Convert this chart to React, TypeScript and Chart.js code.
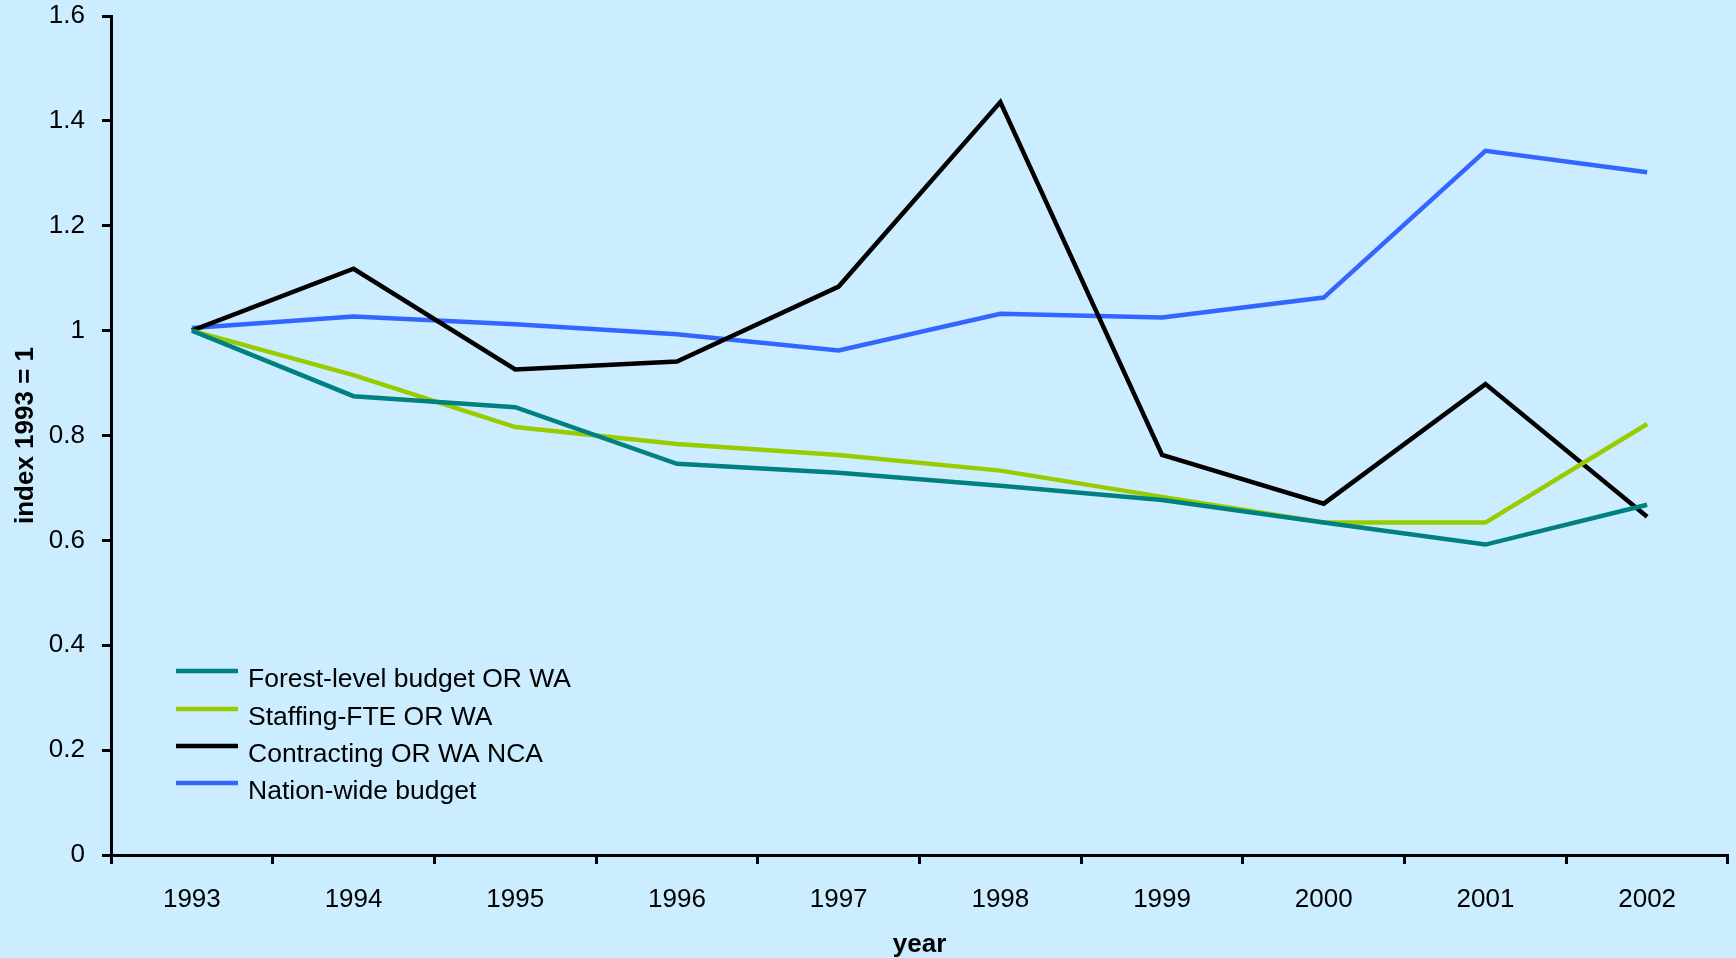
import React, { useEffect, useRef } from "react";
import { Chart, registerables } from "chart.js";

Chart.register(...registerables);

const years = ["1993", "1994", "1995", "1996", "1997", "1998", "1999", "2000", "2001", "2002"];
const forestBudget = [1.0, 0.875, 0.854, 0.746, 0.729, 0.704, 0.677, 0.634, 0.592, 0.668];
const staffingFTE = [1.0, 0.915, 0.816, 0.784, 0.763, 0.733, 0.683, 0.634, 0.634, 0.822];
const contracting = [1.0, 1.118, 0.926, 0.941, 1.084, 1.436, 0.763, 0.67, 0.898, 0.645];
const nationBudget = [1.005, 1.027, 1.012, 0.993, 0.962, 1.032, 1.025, 1.063, 1.343, 1.302];
const seriesNames = ["Forest-level budget OR WA", "Staffing-FTE OR WA", "Contracting OR WA NCA", "Nation-wide budget"];
const seriesColors = ["#008080", "#99CC00", "#000000", "#3366FF"];

const FONT = "'Liberation Sans', Arial, sans-serif";

const legendPlugin = {
  id: "insideLegend",
  afterDraw(chart: any) {
    const ctx = chart.ctx;
    ctx.save();
    const rows = [671, 709, 746, 783];
    chart.data.datasets.forEach((ds: any, i: number) => {
      const y = rows[i];
      ctx.strokeStyle = ds.borderColor;
      ctx.lineWidth = 4.5;
      ctx.beginPath();
      ctx.moveTo(176, y);
      ctx.lineTo(238, y);
      ctx.stroke();
      ctx.fillStyle = "#000";
      ctx.font = `26.5px ${FONT}`;
      ctx.textBaseline = "alphabetic";
      ctx.textAlign = "left";
      ctx.fillText(ds.label, 248, y + 16);
    });
    ctx.restore();
  },
};

export default function App() {
  const ref = useRef<HTMLCanvasElement | null>(null);
  useEffect(() => {
    document.body.style.margin = "0";
    const series = [forestBudget, staffingFTE, contracting, nationBudget];
    const chart = new Chart(ref.current as HTMLCanvasElement, {
      type: "line",
      data: {
        labels: years,
        datasets: series.map((d, i) => ({
          label: seriesNames[i],
          data: d,
          borderColor: seriesColors[i],
          backgroundColor: seriesColors[i],
          borderWidth: 4.5,
          borderJoinStyle: "miter" as const,
          pointRadius: 0,
          tension: 0,
        })),
      },
      options: {
        animation: false,
        responsive: false,
        maintainAspectRatio: false,
        layout: { padding: { left: 0, right: 8, top: 16, bottom: 0 } },
        plugins: { legend: { display: false }, tooltip: { enabled: false } },
        scales: {
          x: {
            offset: true,
            grid: { offset: true, drawOnChartArea: false, drawTicks: true, tickLength: 9, tickWidth: 3, color: "#000" },
            border: { color: "#000", width: 3 },
            ticks: { color: "#000", font: { family: FONT, size: 26 }, padding: 20, maxRotation: 0 },
            title: { display: true, text: "year", color: "#000", font: { family: FONT, size: 26, weight: "bold" }, padding: { top: 0, bottom: -2 } },
            afterFit: (s: any) => { s.height = 103; s.paddingLeft = 0; s.paddingRight = 0; },
          },
          y: {
            min: 0,
            max: 1.6,
            ticks: { stepSize: 0.2, color: "#000", font: { family: FONT, size: 26 }, padding: 17,
              callback: (v: any) => String(Math.round(Number(v) * 10) / 10) },
            grid: { drawOnChartArea: false, drawTicks: true, tickLength: 9, tickWidth: 3, color: "#000" },
            border: { color: "#000", width: 3 },
            title: { display: true, text: "index 1993 = 1", color: "#000", font: { family: FONT, size: 26, weight: "bold" }, padding: { top: 10, bottom: 0 } },
            afterFit: (s: any) => { s.width = 111; s.paddingTop = 0; s.paddingBottom = 0; },
          },
        },
      },
      plugins: [legendPlugin, {
        id: "bg",
        beforeDraw(c: any) {
          const ctx = c.ctx;
          ctx.save();
          ctx.fillStyle = "#CCECFF";
          ctx.fillRect(0, 0, c.width, c.height);
          ctx.restore();
        },
      }],
    });
    return () => chart.destroy();
  }, []);
  return (
    <div style={{ width: 1736, height: 958, background: "#CCECFF" }}>
      <canvas ref={ref} width={1736} height={958} style={{ display: "block" }} />
    </div>
  );
}
